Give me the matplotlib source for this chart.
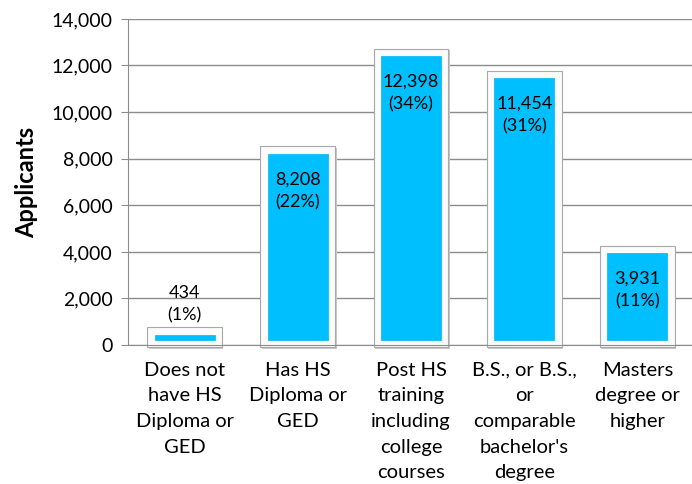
# Applicants by education level - bar chart

import matplotlib.pyplot as plt
from matplotlib.ticker import FuncFormatter

plt.rcParams['font.family'] = ['Lato', 'DejaVu Sans']

categories = ['Does not\nhave HS\nDiploma or\nGED',
              'Has HS\nDiploma or\nGED',
              'Post HS\ntraining\nincluding\ncollege\ncourses',
              'B.S., or B.S.,\nor\ncomparable\nbachelor\'s\ndegree',
              'Masters\ndegree or\nhigher']
applicants = [434, 8208, 12398, 11454, 3931]
percents = [1, 22, 34, 31, 11]
y_ticks = list(range(0, 14001, 2000))

fig = plt.figure(figsize=(6.92, 4.84), dpi=100)
ax = fig.add_axes([0.185, 0.287, 0.818, 0.674])

x = list(range(len(categories)))
pad_top = 330     # frame above each bar, data units
pad_bottom = 90   # frame below the axis
inner_bottom = 220  # bevel eats into the bar bottom

# shadow, white bevel frame, then the cyan face
ax.bar([i + 0.012 for i in x], [v + pad_top + pad_bottom for v in applicants],
       bottom=-pad_bottom - 60, width=0.66, color='#c8c8c8', edgecolor='none',
       zorder=2, clip_on=False)
ax.bar(x, [v + pad_top + pad_bottom for v in applicants], bottom=-pad_bottom,
       width=0.66, color='#fbfbfb', edgecolor='#a8a8a8', linewidth=0.8,
       zorder=2, clip_on=False)
ax.bar(x, [max(v - inner_bottom, 120) for v in applicants],
       bottom=[min(inner_bottom, v - 120) for v in applicants], width=0.53,
       color='#00bfff', edgecolor='#00b4f2', linewidth=0.5, zorder=3,
       clip_on=False)

for i, (v, p) in enumerate(zip(applicants, percents)):
    txt = '{:,}\n({}%)'.format(v, p)
    if v < 2000:
        ax.text(i, v + 480, txt, ha='center', va='bottom', fontsize=13,
                linespacing=1.5, zorder=4)
    else:
        ax.text(i, v - 750, txt, ha='center', va='top', fontsize=13,
                linespacing=1.5, zorder=4)

ax.set_ylim(0, 14000)
ax.set_xlim(-0.5, len(categories) - 0.5)
ax.set_yticks(y_ticks)
ax.yaxis.set_major_formatter(FuncFormatter(lambda v, pos: '{:,.0f}'.format(v)))
ax.set_xticks(x)
ax.set_xticklabels(categories, fontsize=14.5, linespacing=1.62)
ax.tick_params(axis='y', labelsize=14, length=5, color='#8c8c8c', pad=6)
ax.tick_params(axis='x', length=0, pad=12)

ax.grid(axis='y', color='#8c8c8c', linewidth=1.0, zorder=0)
ax.set_axisbelow(True)
for side in ['top', 'right']:
    ax.spines[side].set_visible(False)
for side in ['left', 'bottom']:
    ax.spines[side].set_color('#8c8c8c')

ax.set_ylabel('Applicants', fontsize=17, fontweight='bold', labelpad=10)

fig.savefig('out.png', dpi=100)
